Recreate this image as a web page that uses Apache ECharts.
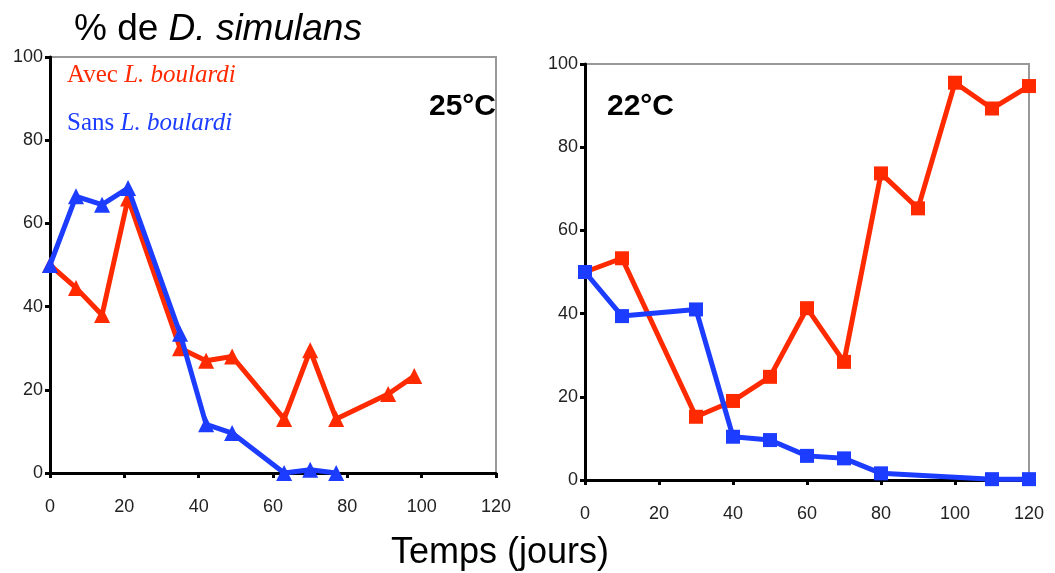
<!DOCTYPE html>
<html><head><meta charset="utf-8">
<script src="https://cdn.jsdelivr.net/npm/echarts@6/dist/echarts.min.js"></script>
<style>html,body{margin:0;padding:0;background:#fff}#c{width:1055px;height:573px}</style>
</head><body><div id="c"></div>
<script>
// 25°C panel
const days25Avec = [0, 7, 14, 21, 35, 42, 49, 63, 70, 77, 91, 98];
const avec25 = [50, 44.5, 38, 66, 30, 27, 28, 13, 29.5, 13, 19, 23.3];
const days25Sans = [0, 7, 14, 21, 35, 42, 49, 63, 70, 77];
const sans25 = [50, 66.5, 64.5, 68.5, 33.5, 11.7, 9.6, 0, 0.8, 0];
// 22°C panel
const days22Avec = [0, 10, 30, 40, 50, 60, 70, 80, 90, 100, 110, 120];
const avec22 = [50, 53.3, 15.2, 19, 24.8, 41.3, 28.4, 73.7, 65.3, 95.5, 89.3, 94.7];
const days22Sans = [0, 10, 30, 40, 50, 60, 70, 80, 110, 120];
const sans22 = [50, 39.4, 41, 10.4, 9.6, 5.8, 5.2, 1.6, 0.2, 0.2];

const RED = '#ff2a00', BLUE = '#1c3cff';
const zip = (xs, ys) => xs.map((x, i) => [x, ys[i]]);

const chart = echarts.init(document.getElementById('c'));
const axisCommon = () => ({
  axisLine: {show: true, lineStyle: {color: '#000', width: 3}},
  axisTick: {show: true, length: 5, lineStyle: {color: '#000', width: 3}},
  splitLine: {show: false},
  axisLabel: {color: '#222', fontSize: 18, fontFamily: 'Liberation Sans, Arial'}
});
function xAx(gi) {
  const a = axisCommon();
  return Object.assign({type: 'value', gridIndex: gi, min: 0, max: 120, interval: 20}, a,
    {axisLabel: Object.assign({}, a.axisLabel, {margin: 25})});
}
function yAx(gi) {
  const a = axisCommon();
  return Object.assign({type: 'value', gridIndex: gi, min: 0, max: 100, interval: 20}, a,
    {axisLabel: Object.assign({}, a.axisLabel, {margin: 7})});
}
function line(xi, data, color, sym) {
  return {type: 'line', xAxisIndex: xi, yAxisIndex: xi, data: data, clip: false,
    lineStyle: {color: color, width: 5}, itemStyle: {color: color},
    symbol: sym, symbolSize: sym === 'triangle' ? 16 : 14, showSymbol: true, animation: false, z: color === BLUE ? 3 : 2};
}
const serif = 'Liberation Serif, Times New Roman';
chart.setOption({
  animation: false,
  grid: [
    {left: 50, top: 57, width: 446, height: 416, show: true, borderColor: '#999', borderWidth: 2},
    {left: 585, top: 64, width: 444, height: 416, show: true, borderColor: '#999', borderWidth: 2}
  ],
  xAxis: [xAx(0), xAx(1)],
  yAxis: [yAx(0), yAx(1)],
  series: [
    line(0, zip(days25Avec, avec25), RED, 'triangle'),
    line(0, zip(days25Sans, sans25), BLUE, 'triangle'),
    line(1, zip(days22Avec, avec22), RED, 'rect'),
    line(1, zip(days22Sans, sans22), BLUE, 'rect')
  ],
  graphic: [
    {type: 'text', left: 74, top: 11, style: {
      text: '{n|% de }{i|D. simulans}',
      rich: {n: {fontSize: 37, fontFamily: 'Liberation Sans, Arial', fill: '#000'},
             i: {fontSize: 37, fontFamily: 'Liberation Sans, Arial', fontStyle: 'italic', fill: '#000'}}}},
    {type: 'text', left: 67, top: 63, style: {
      text: '{n|Avec }{i|L. boulardi}',
      rich: {n: {fontSize: 25, fontFamily: serif, fill: RED},
             i: {fontSize: 25, fontFamily: serif, fontStyle: 'italic', fill: RED}}}},
    {type: 'text', left: 67, top: 111, style: {
      text: '{n|Sans }{i|L. boulardi}',
      rich: {n: {fontSize: 25, fontFamily: serif, fill: BLUE},
             i: {fontSize: 25, fontFamily: serif, fontStyle: 'italic', fill: BLUE}}}},
    {type: 'text', right: 559, top: 92, style: {text: '25°C', fontSize: 30, fontWeight: 'bold', fontFamily: 'Liberation Sans, Arial', fill: '#000'}},
    {type: 'text', left: 607, top: 92, style: {text: '22°C', fontSize: 30, fontWeight: 'bold', fontFamily: 'Liberation Sans, Arial', fill: '#000'}},
    {type: 'text', left: 391, top: 535, style: {text: 'Temps (jours)', fontSize: 36, fontFamily: 'Liberation Sans, Arial', fill: '#000'}}
  ]
});
</script></body></html>
